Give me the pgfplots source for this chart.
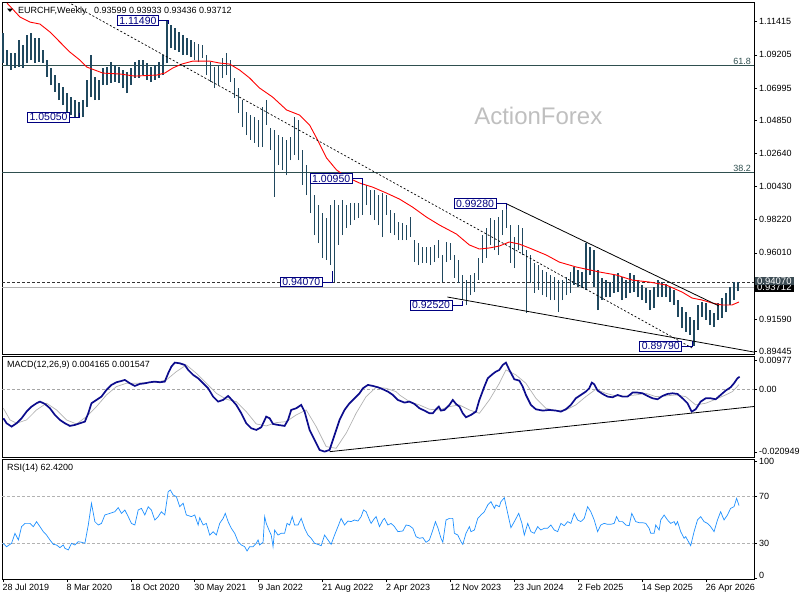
\documentclass[border=0pt]{standalone}
\usepackage{fontspec}
\setmainfont{Liberation Sans}
\usepackage{pgfplots}
\usepackage{pgfplotstable}
\pgfplotsset{compat=1.18}
\definecolor{barc}{RGB}{32,72,94}
\definecolor{macdc}{RGB}{12,12,140}
\definecolor{rsic}{RGB}{30,144,255}
\definecolor{fibc}{RGB}{47,79,79}
\definecolor{labc}{RGB}{0,0,128}
\definecolor{boxg}{RGB}{60,76,84}

\pgfplotstableread{
w hi lo
0 1.1066 1.0866
2 1.0953 1.0853
4 1.0933 1.0819
6 1.0933 1.0833
8 1.1019 1.0839
10 1.0986 1.0833
12 1.1053 1.0866
14 1.1066 1.0886
16 1.1033 1.0866
18 1.1033 1.0873
20 1.0953 1.0866
22 1.0886 1.0773
24 1.0833 1.0719
26 1.0786 1.0673
28 1.0733 1.0619
30 1.0706 1.0586
32 1.0666 1.0539
34 1.0639 1.0519
36 1.0619 1.0506
38 1.0606 1.0505
40 1.0619 1.0506
42 1.0753 1.0573
44 1.0919 1.0639
46 1.0773 1.0619
48 1.0753 1.0619
50 1.0833 1.0719
52 1.0839 1.0719
54 1.0873 1.0733
56 1.0853 1.0739
58 1.0839 1.0733
60 1.0819 1.0699
62 1.0806 1.0666
64 1.0833 1.0719
66 1.0873 1.0766
68 1.0886 1.0766
70 1.0886 1.0786
72 1.0866 1.0753
74 1.0839 1.0739
76 1.0853 1.0753
78 1.0873 1.0766
80 1.0919 1.0786
82 1.1149 1.0866
84 1.1119 1.0966
86 1.1099 1.0953
88 1.1073 1.0939
90 1.1053 1.0919
92 1.1033 1.0919
94 1.1019 1.0906
96 1.1006 1.0886
98 1.0993 1.0873
100 1.0986 1.0899
102 1.0919 1.0786
104 1.0873 1.0739
106 1.0839 1.0699
108 1.0853 1.0719
110 1.0899 1.0766
112 1.0933 1.0786
114 1.0886 1.0739
116 1.0766 1.0633
118 1.0699 1.0533
120 1.0619 1.0439
122 1.0539 1.0386
124 1.0519 1.0353
126 1.0506 1.0333
128 1.0486 1.0306
130 1.0573 1.0306
132 1.0619 1.0453
134 1.0433 1.0286
136 1.0419 0.9973
138 1.0386 1.0186
140 1.0373 1.0153
142 1.0353 1.0119
144 1.0373 1.0219
146 1.0506 1.0253
148 1.0486 1.0219
150 1.0286 1.0053
152 1.0186 0.9986
154 1.0086 0.9866
156 0.9986 0.9719
158 0.9919 0.9666
160 0.9866 0.9566
162 0.9833 0.9553
164 0.9919 0.9519
166 0.9953 0.9407
168 0.9919 0.9653
170 0.9953 0.9719
172 0.9919 0.9766
174 0.9933 0.9786
176 0.9933 0.9819
178 0.9933 0.9833
180 1.0095 0.9853
182 1.0053 0.9919
184 1.0019 0.9853
186 1.0019 0.9819
188 0.9986 0.9786
190 0.9999 0.9706
192 0.9986 0.9853
194 0.9886 0.9733
196 0.9866 0.9719
198 0.9806 0.9686
200 0.9799 0.9686
202 0.9786 0.9686
204 0.9839 0.9706
206 0.9686 0.9539
208 0.9666 0.9519
210 0.9639 0.9533
212 0.9639 0.9533
214 0.9639 0.9519
216 0.9653 0.9539
218 0.9686 0.9566
220 0.9586 0.9406
222 0.9673 0.9539
224 0.9666 0.9553
226 0.9586 0.9433
228 0.9553 0.9399
230 0.9453 0.9286
232 0.9419 0.9252
234 0.9453 0.9319
236 0.9466 0.9339
238 0.9566 0.9419
240 0.9719 0.9533
242 0.9766 0.9566
244 0.9833 0.9653
246 0.9819 0.9619
248 0.9839 0.9586
250 0.9886 0.9719
252 0.9928 0.9766
254 0.9786 0.9533
256 0.9706 0.9499
258 0.9786 0.9619
260 0.9766 0.9586
262 0.9619 0.9199
264 0.9586 0.9399
266 0.9533 0.9333
268 0.9519 0.9353
270 0.9486 0.9319
272 0.9473 0.9306
274 0.9453 0.9286
276 0.9439 0.9286
278 0.9419 0.9206
280 0.9419 0.9286
282 0.9439 0.9319
284 0.9473 0.9333
286 0.9506 0.9386
288 0.9486 0.9373
290 0.9473 0.9366
292 0.9666 0.9353
294 0.9639 0.9453
296 0.9619 0.9373
298 0.9486 0.9219
300 0.9433 0.9286
302 0.9419 0.9306
304 0.9406 0.9306
306 0.9453 0.9333
308 0.9466 0.9339
310 0.9439 0.9286
312 0.9419 0.9299
314 0.9466 0.9333
316 0.9453 0.9339
318 0.9419 0.9306
320 0.9386 0.9286
322 0.9366 0.9266
324 0.9353 0.9219
326 0.9373 0.9233
328 0.9419 0.9306
330 0.9406 0.9306
332 0.9393 0.9306
334 0.9373 0.9273
336 0.9353 0.9253
338 0.9286 0.9173
340 0.9239 0.9099
342 0.9206 0.9073
344 0.9173 0.9053
346 0.9153 0.8979
348 0.9253 0.9086
350 0.9273 0.9173
352 0.9266 0.9153
354 0.9219 0.9119
356 0.9199 0.9106
358 0.9266 0.9153
360 0.9299 0.9166
362 0.9333 0.9206
364 0.9373 0.9253
366 0.9406 0.9286
368 0.9407 0.9344
}\price

\pgfplotstableread{
w ma
2 1.1266
8.5 1.1173
13.5 1.1139
18.5 1.1126
23.5 1.1073
28.5 1.1006
33.5 1.0939
38.5 1.0886
42 1.0839
46 1.0819
50 1.0799
58.5 1.0793
66 1.0779
77 1.0786
81 1.0799
85 1.0833
89.5 1.0859
95 1.0879
103.5 1.0879
108.5 1.0866
113.5 1.0859
118.5 1.0819
123.5 1.0766
128.5 1.0699
135 1.0639
142 1.0553
148.5 1.0519
153.5 1.0453
157.5 1.0353
162 1.0233
167 1.0153
172 1.0106
178.5 1.0066
185 1.0039
192 0.9999
198.5 0.9959
205 0.9906
212 0.9839
218.5 0.9786
227 0.9726
233.5 0.9653
238.5 0.9626
243.5 0.9633
248.5 0.9646
253.5 0.9673
258.5 0.9659
263.5 0.9633
272 0.9586
278.5 0.9539
287 0.9506
298.5 0.9473
307 0.9453
315 0.9419
323.5 0.9406
332 0.9386
340 0.9339
345 0.9299
350 0.9286
355 0.9266
360 0.9253
365 0.9253
368.5 0.9273
}\ma

\pgfplotstableread{
w v
0.2 -9.68e-3
1.8 -11.35e-3
4.3 -12.47e-3
6.8 -11.35e-3
9.3 -9.68e-3
11.8 -7.46e-3
14.3 -5.79e-3
16.8 -4.67e-3
18.5 -4.12e-3
21 -4.90e-3
23.5 -6.34e-3
26 -8.57e-3
28.5 -10.24e-3
31 -11.35e-3
33.5 -12.24e-3
36 -11.91e-3
38.5 -11.35e-3
41 -10.80e-3
42.7 -8.01e-3
44.3 -4.67e-3
46.8 -3.56e-3
49.3 -2.45e-3
51.8 -0.22e-3
54.3 1.45e-3
56.8 2.34e-3
59.3 2.78e-3
61 3.12e-3
63.5 2.00e-3
66 1.11e-3
68.5 1.78e-3
71 2.00e-3
73.5 2.34e-3
76 2.56e-3
78.5 2.34e-3
81 2.56e-3
82.7 5.34e-3
84.3 7.57e-3
86 8.90e-3
88.5 8.68e-3
91 8.12e-3
92.7 6.46e-3
95.2 4.79e-3
97.7 3.67e-3
100.2 2.00e-3
102.7 0.33e-3
105.2 -2.45e-3
107.7 -4.12e-3
110.2 -3.56e-3
112.7 -2.23e-3
114.3 -3.34e-3
116.8 -5.23e-3
119.3 -8.01e-3
121.8 -11.35e-3
124.3 -13.02e-3
126.8 -13.58e-3
129.3 -12.69e-3
131.8 -9.13e-3
133.5 -9.68e-3
135.2 -11.58e-3
137.7 -11.91e-3
141 -12.24e-3
142.7 -10.24e-3
144.3 -6.90e-3
146.8 -6.34e-3
149.3 -5.23e-3
151 -7.46e-3
153.5 -13.58e-3
156 -16.92e-3
158.5 -20.26e-3
161 -20.81e-3
163.5 -20.26e-3
166 -15.25e-3
168.5 -10.24e-3
171 -6.90e-3
173.5 -4.67e-3
176 -3.01e-3
178.5 -1.34e-3
180.2 0.33e-3
182.7 1.45e-3
185.2 1.11e-3
187.7 0.67e-3
190.2 0
192.7 -0.78e-3
195.2 -1.89e-3
197.7 -3.56e-3
201 -4.45e-3
203.5 -4.12e-3
206 -4.90e-3
208.5 -6.34e-3
211 -7.12e-3
213.5 -8.01e-3
215.2 -8.01e-3
216.8 -6.68e-3
218.2 -5.79e-3
219.3 -7.12e-3
221 -6.90e-3
223.5 -5.23e-3
225.2 -3.56e-3
226.8 -4.90e-3
228.5 -5.79e-3
230.2 -8.01e-3
231.8 -9.35e-3
234.3 -8.57e-3
236.8 -7.46e-3
238.5 -3.56e-3
241 0.89e-3
242.7 3.67e-3
245.2 5.12e-3
246.8 5.90e-3
248.5 6.46e-3
250.2 8.12e-3
251.8 8.90e-3
253.5 6.46e-3
256 3.34e-3
258.5 2.89e-3
260.2 0.89e-3
261.8 -1.89e-3
264.3 -5.23e-3
266.8 -6.68e-3
270.2 -7.12e-3
273.5 -6.90e-3
276.8 -7.12e-3
279.3 -7.46e-3
281.8 -6.68e-3
284.3 -5.23e-3
286.8 -3.01e-3
289.3 -1.89e-3
291.8 -0.78e-3
293.5 0.33e-3
294.8 2.23e-3
296 1.67e-3
297.7 -0.45e-3
300.2 -1.56e-3
302.7 -2.45e-3
305.2 -2.67e-3
307.7 -1.89e-3
310.2 -2.45e-3
312.7 -2.45e-3
315.2 -1.11e-3
317.7 -1.11e-3
320.2 -1.34e-3
322.7 -2.23e-3
325.2 -3.01e-3
327.7 -3.34e-3
330.2 -2.23e-3
332.7 -1.56e-3
335.2 -1.34e-3
337.7 -1.56e-3
340.2 -3.01e-3
342.7 -4.67e-3
344.8 -7.46e-3
346.8 -6.68e-3
349.3 -4.12e-3
351.8 -3.01e-3
354.3 -3.01e-3
356.8 -3.34e-3
359.3 -1.89e-3
361.8 -0.45e-3
364.3 0.67e-3
366 2.00e-3
367.7 3.67e-3
368.8 4.17e-3
}\macd

\pgfplotstableread{
w s
0.2 -6.34e-3
3.5 -10.24e-3
6.8 -11.35e-3
11.8 -10.24e-3
16.8 -6.90e-3
21.8 -4.67e-3
26.8 -6.90e-3
31.8 -10.24e-3
36.8 -11.58e-3
41.8 -9.13e-3
46.8 -5.79e-3
51.8 -1.89e-3
56.8 0.89e-3
61.8 2.00e-3
66.8 2.00e-3
71.8 2.23e-3
76.8 2.34e-3
81.8 3.12e-3
86.8 5.90e-3
91.8 8.12e-3
96.8 5.34e-3
101.8 2.00e-3
106.8 -1.34e-3
111.8 -3.34e-3
116.8 -4.12e-3
121.8 -7.46e-3
126.8 -11.58e-3
131.8 -12.24e-3
136.8 -11.13e-3
141.8 -10.80e-3
146.8 -8.57e-3
151.8 -6.90e-3
156.8 -12.47e-3
161.8 -19.15e-3
166.8 -19.70e-3
171.8 -14.69e-3
176.8 -8.01e-3
181.8 -2.45e-3
186.8 0.67e-3
191.8 0.33e-3
196.8 -0.78e-3
198.5 -1.89e-3
203.5 -4.12e-3
208.5 -5.23e-3
213.5 -6.68e-3
218.5 -6.90e-3
223.5 -5.79e-3
228.5 -5.23e-3
233.5 -6.90e-3
238.5 -8.01e-3
243.5 -3.56e-3
248.5 2.00e-3
251.8 6.46e-3
256.8 4.79e-3
261.8 2.00e-3
266.8 -3.01e-3
271.8 -6.34e-3
276.8 -7.12e-3
281.8 -6.90e-3
286.8 -5.23e-3
291.8 -2.45e-3
296.8 0
301.8 -1.34e-3
306.8 -2.23e-3
311.8 -2.23e-3
316.8 -1.89e-3
321.8 -1.34e-3
326.8 -2.45e-3
331.8 -2.23e-3
336.8 -1.89e-3
341.8 -2.45e-3
346.8 -5.23e-3
351.8 -4.67e-3
356.8 -3.34e-3
361.8 -1.89e-3
365.2 -0.78e-3
368.5 1.55e-3
}\signal

\pgfplotstableread{
w r
0 30
1.8 27.1
4.3 30
6 38.6
7.7 32.9
9.3 44.3
11 47.1
13.5 47.1
15.2 44.3
16.8 48.6
18.5 44.3
20.2 40
21.8 37.1
23.5 32.9
25.2 29.1
26.8 28.6
28.5 26.3
30.2 28.6
31 25.7
32.7 24.3
34.3 30
36 28.6
37.7 31.4
39.3 30.9
41 30
42.7 45.7
44.3 64.3
46 48.6
47.7 45.7
49.3 47.1
51 54.3
53.5 55.7
56 57.1
57.7 60.6
59.3 55.7
61 58.6
62.7 52.9
64.3 47.1
66 45.7
67.7 58.6
69.3 60
71 54.3
72.7 61.4
74.3 58.6
76 50
77.7 52.9
79.3 57.1
81 54.3
82.7 74.3
83.8 75.7
85.2 71.4
86.8 70
88.5 61.4
90.2 64.3
91.8 54.3
94.3 52.9
96 54.3
97.7 45.7
98.5 52
100.2 45.7
101.8 47.1
103.5 37.1
105.2 40
106.8 37.1
108.5 47.1
110.2 51.4
111.3 55.7
112.7 48.6
114.3 42.9
116 38.6
117.7 31.4
119.3 28.6
121 27.1
122.2 23.4
123.5 27.1
125.2 27.1
126.8 30
127.7 32.9
128.5 28.6
130.2 30.9
131 52.9
131.8 47.1
133.5 40
134.3 37.1
135.2 27.1
136 41.4
137.7 37.1
139.3 38.6
141 38.6
142.2 47.1
143.5 45.7
144.8 52.9
146 45.7
147.7 45.7
149.3 51.4
151 42.9
152.7 37.1
154.3 34.3
156 30
157.7 29.1
159.3 28
161 37.1
162.7 32.9
164.3 29.1
166 37.1
167.7 44.3
169.3 51.4
171 45.7
172.7 49.1
174.3 48.6
176 50
177.7 49.1
179.3 52.9
180.5 58.6
181.8 57.1
183.5 50
184.3 47.1
186 51.4
186.8 52.9
188.5 44.3
190.2 50
191 51.4
192.7 45.7
194.3 47.1
196 44.3
197.7 40
200.2 40.6
201.8 45.7
203.5 45.1
205.2 42.9
206.8 35.7
208.5 34.3
210.2 34.9
211.8 30.9
213.5 32.9
215.2 41.4
216.5 48.6
217.7 43.4
219.3 34.3
220.2 30.9
221.8 50
223.5 51.4
225.2 51.4
226 38.6
227.7 37.1
229.3 31.4
230.2 29.1
231.8 38.6
233.5 44.3
234.3 40
236 41.4
237.7 51.4
239.3 54.3
241 57.1
242.7 62.9
244.3 65.7
246 60
246.8 62.9
248.5 61.4
249.3 65.7
251 69.1
252.7 55.7
254.3 43.4
256 48.6
258.2 55.7
259.8 47.1
261 37.1
262.7 47.1
264.3 40
266 38.6
267.7 44.3
269.3 41.4
271 42.9
272.7 42.9
274.3 45.7
276 41.4
277.7 40
279.3 47.1
281 45.1
282.7 48.6
284.3 47.1
286 55.7
287.7 50
289.3 48.6
291 51.4
292.7 61.4
294.3 57.1
296 50
297.7 40
299.3 45.7
301 47.1
302.7 46.3
304.3 46.3
306 47.1
307.2 52.9
308.5 48.6
310.2 48.6
311.8 45.7
313.5 45.1
314.8 55.7
316.8 48.6
318.5 47.7
320.2 47.7
321.8 47.1
323.5 42.9
324.3 38.6
326 38.6
326.8 45.7
328.5 41.4
329.3 50
331 54.3
332.7 50
334.3 47.1
336 48.6
336.8 45.7
337.7 48.6
339.3 40
341 34.3
341.8 35.7
342.7 32.9
344.3 28
346 40
347.7 50
349.3 52.9
351 48.6
352.7 47.1
354.3 44.3
356 40
357.7 50
359.3 57.1
361 50
362.7 54.3
364.3 60
366 61.4
367.3 68.6
368.5 62.4
}\rsi

\pgfplotsset{
  panel/.style={
    scale only axis, width=752pt, xmin=-0.5, xmax=376,
    anchor=north west,
    axis line style={black, line width=0.8pt},
    tick style={black, line width=0.5pt},
    ytick pos=right, yticklabel pos=right,
    xtick pos=bottom,
    tick align=outside, major tick length=3pt,
    xtick=\empty,
    scaled y ticks=false,
    yticklabel style={font=\fontsize{9}{10}\selectfont, anchor=west, inner sep=0pt, xshift=2pt},
    /pgf/number format/assume math mode=true,
    clip mode=individual,
  },
}
\tikzset{
  lab/.style={draw=labc, line width=0.7pt, fill=white, text=labc, font=\fontsize{10.5}{11}\selectfont, inner xsep=2pt, inner ysep=1.2pt},
}

\begin{document}
\begin{tikzpicture}[font=\fontsize{9}{10}\selectfont]
\useasboundingbox (0,0) rectangle (800pt,-600pt);

% ---------------- main price panel
\begin{axis}[panel, at={(2pt,-2pt)}, height=352pt,
  ymin=0.8926, ymax=1.1273,
  ytick={1.11415,1.09205,1.06995,1.04850,1.02640,1.00430,0.98220,0.96010,0.91590,0.89445},
  yticklabels={1.11415,1.09205,1.06995,1.04850,1.02640,1.00430,0.98220,0.96010,0.91590,0.89445},
]
\node[text=black!25, font=\fontsize{24}{26}\selectfont] at (axis cs:268,1.0513) {ActionForex};
\addplot[fibc, line width=0.8pt, forget plot] coordinates {(-0.5,1.0851) (376,1.0851)};
\addplot[fibc, line width=0.8pt, forget plot] coordinates {(-0.5,1.0137) (376,1.0137)};
\addplot[black!30, line width=0.8pt, forget plot] coordinates {(-0.5,0.93712) (376,0.93712)};
\addplot[black!80, line width=0.6pt, dash pattern=on 3pt off 2pt, forget plot] coordinates {(-0.5,0.9407) (376,0.9407)};
\addplot[draw=none, forget plot,
  error bars/.cd, y dir=plus, y explicit, error mark=none,
  error bar style={draw=barc, line width=1.5pt, solid}]
  table[x=w, y=lo, y error expr=\thisrow{hi}-\thisrow{lo}] {\price};
\addplot[red, line width=0.9pt, forget plot] table[x=w, y=ma] {\ma};
\addplot[black, line width=0.7pt, dash pattern=on 2pt off 2pt, forget plot] coordinates {(32.5,1.1273) (345,0.8966)};
\addplot[black, line width=0.8pt, forget plot] coordinates {(252,0.9928) (358.5,0.9246)};
\addplot[black, line width=0.8pt, forget plot] coordinates {(222.5,0.9306) (376,0.8939)};
\node[anchor=south east, text=fibc, inner sep=1pt] at (axis cs:375,1.0851) {61.8};
\node[anchor=south east, text=fibc, inner sep=1pt] at (axis cs:375,1.0137) {38.2};
% labels
\draw[labc, line width=0.7pt] (axis cs:78,1.1149) -- (axis cs:83,1.1149) -- (axis cs:83,1.1125);
\node[lab, anchor=east] at (axis cs:78,1.1149) {1.11490};
\draw[labc, line width=0.7pt] (axis cs:33.5,1.0505) -- (axis cs:38,1.0505) -- (axis cs:38,1.0530);
\node[lab, anchor=east] at (axis cs:33.5,1.0505) {1.05050};
\draw[labc, line width=0.7pt] (axis cs:175,1.0095) -- (axis cs:180,1.0095) -- (axis cs:180,1.0050);
\node[lab, anchor=east] at (axis cs:175,1.0095) {1.00950};
\draw[labc, line width=0.7pt] (axis cs:160,0.9407) -- (axis cs:165,0.9407) -- (axis cs:165,0.9480);
\node[lab, anchor=east] at (axis cs:160,0.9407) {0.94070};
\draw[labc, line width=0.7pt] (axis cs:225,0.9252) -- (axis cs:230,0.9252) -- (axis cs:230,0.9280);
\node[lab, anchor=east] at (axis cs:225,0.9252) {0.92520};
\draw[labc, line width=0.7pt] (axis cs:247,0.9928) -- (axis cs:252,0.9928) -- (axis cs:252,0.9890);
\node[lab, anchor=east] at (axis cs:247,0.9928) {0.99280};
\draw[labc, line width=0.7pt] (axis cs:340,0.8979) -- (axis cs:345,0.8979) -- (axis cs:345,0.9010);
\node[lab, anchor=east] at (axis cs:340,0.8979) {0.89790};
\node[anchor=north west, inner sep=0pt, text=black] at ([xshift=16pt,yshift=-5pt]rel axis cs:0,1) {EURCHF,Weekly\ \ \ 0.93599\ 0.93933\ 0.93436\ 0.93712};
\end{axis}

% ---------------- MACD panel
\begin{axis}[panel, at={(2pt,-356pt)}, height=101pt,
  ymin=-0.02262, ymax=0.01111,
  ytick={0.00977,0,-0.020949},
  yticklabels={\raisebox{-4pt}{0.00977},0.00,\raisebox{2pt}{-0.020949}},
]
\addplot[black!35, line width=0.6pt, dash pattern=on 3pt off 2pt, forget plot] coordinates {(-0.5,0) (376,0)};
\addplot[black!30, line width=0.7pt, forget plot] table[x=w, y=s] {\signal};
\addplot[macdc, line width=1.7pt, forget plot] table[x=w, y=v] {\macd};
\addplot[black, line width=0.8pt, forget plot] coordinates {(163.5,-0.02084) (376,-0.00575)};
\node[anchor=north west, inner sep=0pt] at ([xshift=5pt,yshift=-5pt]rel axis cs:0,1) {MACD(12,26,9) 0.004165 0.001547};
\end{axis}

% ---------------- RSI panel
\begin{axis}[panel, at={(2pt,-459pt)}, height=120pt,
  ymin=-0.6, ymax=102.3,
  ytick={100,70,30,0},
  yticklabels={\raisebox{-5pt}{100},70,30,\raisebox{5pt}{0}},
  xtick={0,32,64,96,128,160,192,224,256,288,320,352},
  xticklabels={28 Jul 2019,8 Mar 2020,18 Oct 2020,30 May 2021,9 Jan 2022,21 Aug 2022,2 Apr 2023,12 Nov 2023,23 Jun 2024,2 Feb 2025,14 Sep 2025,26 Apr 2026},
  xticklabel style={font=\fontsize{9}{10}\selectfont, anchor=north west, inner sep=0pt, xshift=-0.5pt, yshift=-2pt},
]
\addplot[black!30, line width=0.6pt, dash pattern=on 3pt off 2pt, forget plot] coordinates {(-0.5,70) (376,70)};
\addplot[black!30, line width=0.6pt, dash pattern=on 3pt off 2pt, forget plot] coordinates {(-0.5,30) (376,30)};
\addplot[rsic, line width=0.7pt, forget plot] table[x=w, y=r] {\rsi};
\node[anchor=north west, inner sep=0pt] at ([xshift=5pt,yshift=-5pt]rel axis cs:0,1) {RSI(14) 62.4200};
\end{axis}

% title marker and right-hand price boxes
\fill[black] (7pt,-8.5pt) -- (13pt,-8.5pt) -- (10pt,-12pt) -- cycle;
\node[fill=black, text=white, anchor=west, inner xsep=2pt, inner ysep=1pt, font=\fontsize{9.5}{10}\selectfont] at (755pt,-287.5pt) {0.93712};
\node[fill=boxg, text=white, anchor=west, inner xsep=2pt, inner ysep=1pt, font=\fontsize{9.5}{10}\selectfont] at (755pt,-281pt) {0.94070};
\end{tikzpicture}
\end{document}
